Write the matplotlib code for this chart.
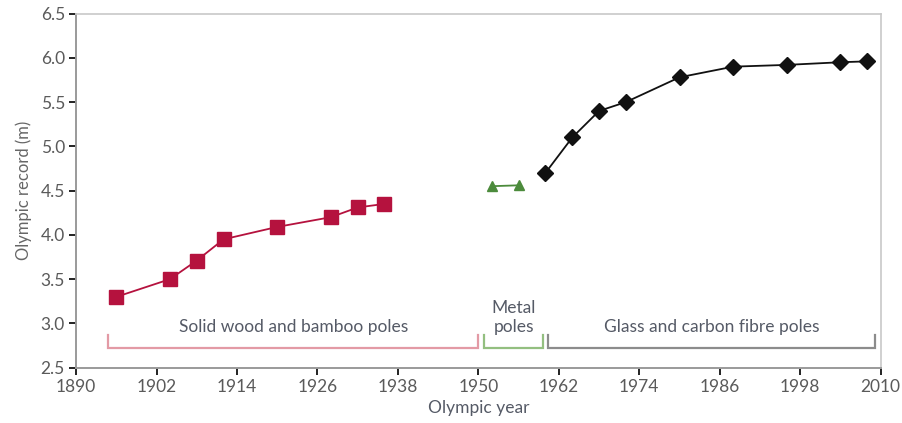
import matplotlib
matplotlib.use("Agg")
import matplotlib.pyplot as plt

# Olympic pole vault records by pole material
wood_years = [1896, 1904, 1908, 1912, 1920, 1928, 1932, 1936]
wood_records = [3.30, 3.50, 3.71, 3.95, 4.09, 4.20, 4.31, 4.35]

metal_years = [1952, 1956]
metal_records = [4.55, 4.56]

fibre_years = [1960, 1964, 1968, 1972, 1980, 1988, 1996, 2004, 2008]
fibre_records = [4.70, 5.10, 5.40, 5.50, 5.78, 5.90, 5.92, 5.95, 5.96]

x_ticks = [1890, 1902, 1914, 1926, 1938, 1950, 1962, 1974, 1986, 1998, 2010]
y_ticks = [2.5, 3.0, 3.5, 4.0, 4.5, 5.0, 5.5, 6.0, 6.5]

# Era brackets: (start, end, label, colour)
era_spans = [
    (1894.8, 1950.0, "Solid wood and bamboo poles", "#e39aa5"),
    (1950.8, 1959.7, "Metal\npoles", "#93bf80"),
    (1960.4, 2009.2, "Glass and carbon fibre poles", "#8c8c8c"),
]

plt.rcParams["font.family"] = ["Lato", "DejaVu Sans"]

fig = plt.figure(figsize=(9.02, 4.23), dpi=100)
ax = fig.add_axes([0.0843, 0.1307, 0.8921, 0.8373])

ax.plot(wood_years, wood_records, color="#b5123e", marker="s", markersize=9.5,
        linewidth=1.3, clip_on=False)
ax.plot(metal_years, metal_records, color="#4c8b3c", marker="^", markersize=7,
        linewidth=1.3, clip_on=False)
ax.plot(fibre_years, fibre_records, color="#111111", marker="D", markersize=8,
        linewidth=1.3, clip_on=False)

bracket_low = 2.728
bracket_high = 2.87
for start, end, label, colour in era_spans:
    ax.plot([start, start, end, end],
            [bracket_high, bracket_low, bracket_low, bracket_high],
            color=colour, linewidth=1.6, solid_joinstyle="miter")
    ax.text((start + end) / 2, 2.905, label, ha="center", va="baseline",
            fontsize=12.5, color="#555a66", linespacing=1.2)

ax.set_xlim(1890, 2010)
ax.set_ylim(2.5, 6.5)
ax.set_xticks(x_ticks)
ax.set_xticklabels([str(v) for v in x_ticks])
ax.set_yticks(y_ticks)
ax.set_yticklabels([f"{v:.1f}" for v in y_ticks])

for side in ("top", "right"):
    ax.spines[side].set_color("#c8c8c8")
    ax.spines[side].set_linewidth(1.2)
for side in ("left", "bottom"):
    ax.spines[side].set_color("#9a9a9a")
    ax.spines[side].set_linewidth(1.4)

ax.tick_params(axis="both", direction="out", length=5, width=1.4,
               color="#222222", labelsize=12.5, labelcolor="#5a5a5a", pad=3)

ax.set_xlabel("Olympic year", fontsize=12.5, color="#555a66", labelpad=4)
ax.set_ylabel("Olympic record (m)", fontsize=12, color="#666666", labelpad=6)

fig.savefig("out.png", dpi=100)
